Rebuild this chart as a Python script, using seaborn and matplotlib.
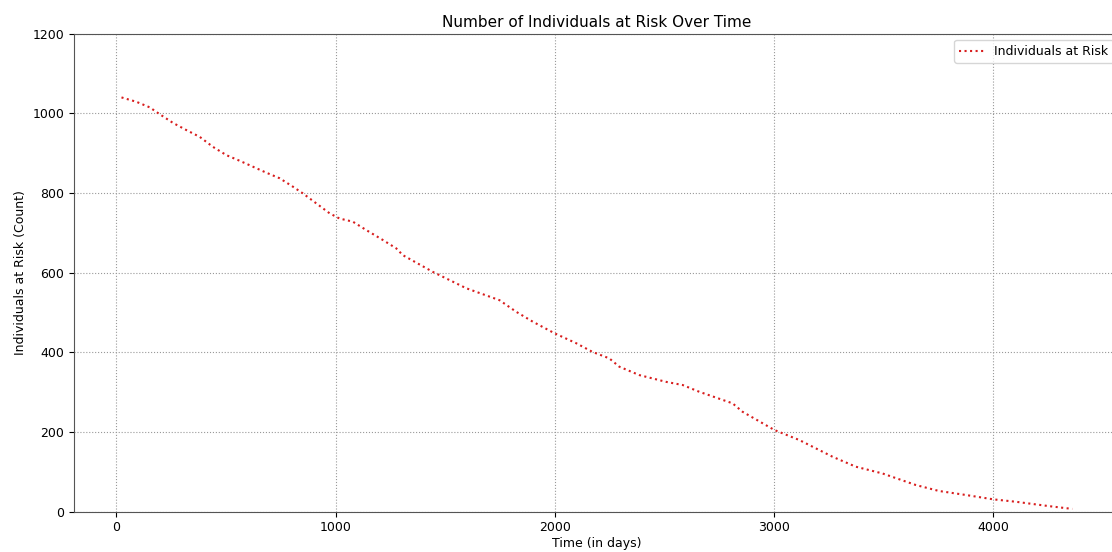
import matplotlib
matplotlib.use("Agg")
import matplotlib.pyplot as plt
import seaborn as sns
import pandas as pd

# Data
time_days = [23, 91, 152, 197, 258, 319, 380, 440, 502, 562, 623, 684, 745, 805,
             851, 912, 973, 1018, 1079, 1140, 1216, 1277, 1307, 1444, 1596, 1748,
             1824, 1900, 1999, 2098, 2173, 2249, 2295, 2386, 2508, 2584, 2660,
             2812, 2857, 3003, 3116, 3268, 3374, 3496, 3648, 3754, 3876, 4002,
             4104, 4256, 4362]
at_risk = [1040, 1029, 1015, 998, 976, 958, 941, 916, 895, 881, 866, 851, 837, 816,
           799, 774, 749, 736, 728, 707, 682, 661, 644, 602, 561, 531,
           502, 477, 448, 423, 401, 385, 364, 343, 326, 318, 301,
           272, 251, 205, 180, 138, 113, 96, 67, 52, 42, 31,
           25, 14, 7]

title = "Number of Individuals at Risk Over Time"
xlabel = "Time (in days)"
ylabel = "Individuals at Risk (Count)"
series_label = "Individuals at Risk"

df = pd.DataFrame({"time": time_days, "risk": at_risk})

fig = plt.figure(figsize=(11.12, 5.52), dpi=100)
ax = fig.add_axes([0.0665, 0.073, 0.9405, 0.866])

sns.lineplot(data=df, x="time", y="risk", ax=ax, color="#d81e1e", linestyle=":",
             linewidth=1.5, label=series_label)

ax.set_ylim(0, 1200)
ax.set_title(title, fontsize=11, pad=5)
ax.set_xlabel(xlabel, fontsize=9, labelpad=2)
ax.set_ylabel(ylabel, fontsize=9)
ax.tick_params(labelsize=9)
ax.grid(True, linestyle=":", color="#999999", linewidth=0.8)
for s in ax.spines.values():
    s.set_color("#555555")
ax.legend(loc="upper right", fontsize=9)

fig.savefig("out.png", dpi=100)
